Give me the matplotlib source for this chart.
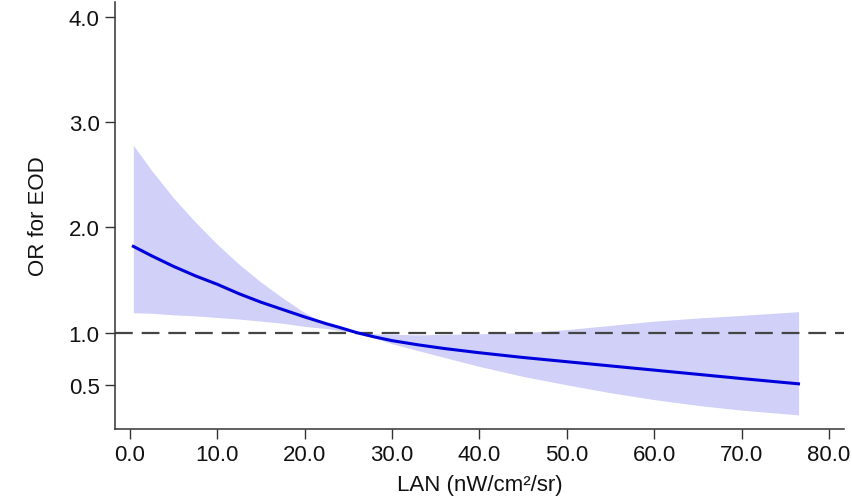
import matplotlib
matplotlib.use("Agg")
import matplotlib.pyplot as plt

plt.rcParams['font.family'] = ['Liberation Sans', 'DejaVu Sans']

# LAN values (nW/cm2/sr) and estimated odds ratios
lan = [0.4, 2.5, 5.0, 7.5, 10.0, 12.5, 15.0, 17.5, 20.0, 22.5, 24.0, 26.0, 28.0,
       30.0, 33.0, 36.0, 40.0, 45.0, 50.0, 55.0, 60.0, 65.0, 70.0, 76.5]
or_est = [1.82, 1.73, 1.63, 1.54, 1.46, 1.37, 1.29, 1.22, 1.15, 1.085, 1.05, 1.00, 0.96,
          0.925, 0.885, 0.85, 0.81, 0.765, 0.725, 0.685, 0.645, 0.605, 0.565, 0.515]
ci_upper = [2.78, 2.54, 2.28, 2.05, 1.84, 1.65, 1.48, 1.33, 1.19, 1.08, 1.04, 1.00, 0.99,
            0.985, 0.98, 0.985, 0.99, 1.00, 1.03, 1.07, 1.11, 1.14, 1.165, 1.20]
ci_lower = [1.19, 1.185, 1.17, 1.16, 1.145, 1.13, 1.11, 1.09, 1.06, 1.04, 1.02, 1.00, 0.95,
            0.895, 0.83, 0.765, 0.68, 0.585, 0.505, 0.43, 0.365, 0.31, 0.265, 0.22]

xticks = [0, 10, 20, 30, 40, 50, 60, 70, 80]
yticks = [0.5, 1.0, 2.0, 3.0, 4.0]

fig = plt.figure(figsize=(8.53, 5.02), dpi=100)
ax = fig.add_axes([0.1348, 0.1434, 0.8546, 0.8506])

ax.fill_between(lan, ci_lower, ci_upper, color='#d0d0f8', linewidth=0)
ax.axhline(1.0, color='#444444', linewidth=1.6, dashes=(8, 4))
ax.plot(lan, or_est, color='#0000dd', linewidth=2.2)

ax.set_xlim(-1.7, 81.7)
ax.set_ylim(0.086, 4.14)
ax.set_xticks(xticks)
ax.set_xticklabels(['%.1f' % v for v in xticks])
ax.set_yticks(yticks)
ax.set_yticklabels(['%.1f' % v for v in yticks])

for s in ['top', 'right']:
    ax.spines[s].set_visible(False)
for s in ['left', 'bottom']:
    ax.spines[s].set_color('#333333')
    ax.spines[s].set_linewidth(1.1)

ax.tick_params(axis='both', direction='out', length=7, width=1.0, color='#333333',
               labelsize=16, pad=4, labelcolor='#111111')

ax.set_xlabel('LAN (nW/cm²/sr)', fontsize=16, color='#111111', labelpad=6)
ax.set_ylabel('OR for EOD', fontsize=16, color='#111111', labelpad=14)

fig.savefig('out.png', dpi=100)
